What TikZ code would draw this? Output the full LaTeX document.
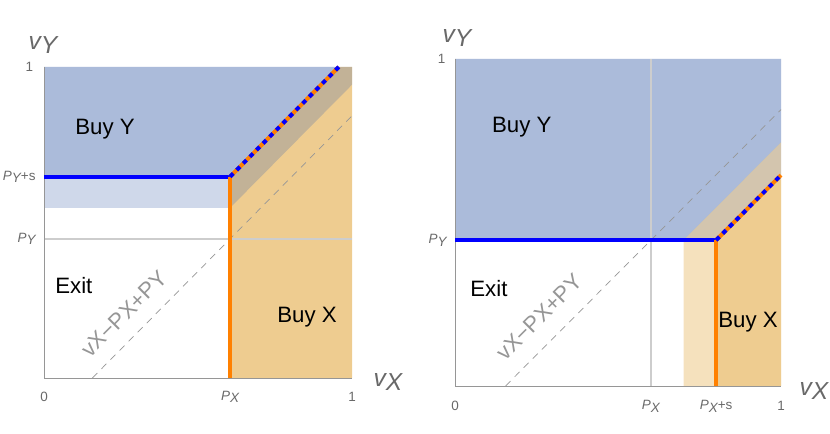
\documentclass[tikz,border=0pt]{standalone}
\usepackage{fontspec}
\setmainfont{Liberation Sans}
\usetikzlibrary{positioning}
\tikzset{>=stealth}
\definecolor{regblue}{RGB}{63,100,170}
\definecolor{regorange}{RGB}{222,155,38}
\definecolor{lineorange}{RGB}{255,128,0}
\definecolor{axisgray}{RGB}{150,150,150}
\definecolor{refgray}{RGB}{205,205,205}
\definecolor{labgray}{RGB}{105,105,105}
\tikzset{
  axis/.style={axisgray, line width=0.8pt},
  refline/.style={refgray, line width=1.5pt},
  diagline/.style={axisgray, line width=0.6pt, dash pattern=on 6pt off 5pt},
  bluebound/.style={blue, line width=3.4pt},
  orangebound/.style={lineorange, line width=3.4pt},
  mixbound/.style={blue, line width=3.4pt, dash pattern=on 4pt off 4pt},
  ticklab/.style={labgray, inner sep=0pt, font=\fontsize{11.5}{13}\selectfont},
  varlab/.style={labgray, inner sep=0pt, font=\fontsize{21}{24}\selectfont\itshape},
  regionlab/.style={inner sep=0pt, font=\fontsize{19}{22}\selectfont},
  diaglab/.style={axisgray, inner sep=0pt, rotate=45, font=\fontsize{19}{22}\selectfont}
}
\newcommand{\lsub}[2]{{\itshape #1\raisebox{-0.35ex}{#2}}}

\begin{document}
\begin{tikzpicture}
\useasboundingbox (0,0) rectangle (24.9,13.02);

\begin{scope}[shift={(1.32,1.68)}, x=9.24cm, y=9.33cm]
\coordinate (oL) at (0,0);
\coordinate (xL) at (1,0);
\coordinate (yL) at (0,1);
\coordinate (pxL) at (0.604,0);
\coordinate (pyL) at (0,0.447);
\coordinate (pyEndL) at (1,0.447);
\coordinate (pysL) at (0,0.647);
\coordinate (kinkL) at (0.604,0.647);
\coordinate (topL) at (0.957,1);
\coordinate (dStartL) at (0.157,0);
\coordinate (dEndL) at (1,0.843);
\fill[regorange, opacity=0.51] (pxL) -- (xL) -- (1,1) -- (topL) -- (kinkL) -- cycle;
\fill[regblue, opacity=0.25] (0,0.547) -- (0.604,0.547) -- (1,0.943) -- (1,1) -- (yL) -- cycle;
\fill[regblue, opacity=0.25] (pysL) -- (kinkL) -- (topL) -- (yL) -- cycle;
\draw[refline] (pyL) -- (pyEndL);
\draw[axis] (yL) -- (oL) -- (xL);
\draw[diagline] (dStartL) -- (dEndL);
\draw[bluebound] (pysL) -- (kinkL);
\draw[orangebound] (pxL) -- (kinkL);
\draw[orangebound] (kinkL) -- (topL);
\draw[mixbound] (kinkL) -- (topL);
\node[ticklab, left=9pt] at (yL) {1};
\node[ticklab, left=7pt] at (pysL) {\lsub{P}{Y}+s};
\node[ticklab, left=7pt] at (pyL) {\lsub{P}{Y}};
\node[ticklab, below=12pt] at (oL) {0};
\node[ticklab, below=11pt] at (pxL) {\lsub{P}{X}};
\node[ticklab, below=12pt] at (xL) {1};
\node[regionlab] (buyyL) at (0.198,0.80) {Buy Y};
\node[regionlab] (exitL) at (0.097,0.296) {Exit};
\node[regionlab] (buyxL) at (0.854,0.196) {Buy X};
\node[diaglab] (diagL) at (0.26,0.206) {vX−PX+PY};
\end{scope}

\begin{scope}[shift={(13.65,1.44)}, x=9.78cm, y=9.81cm]
\coordinate (oR) at (0,0);
\coordinate (xR) at (1,0);
\coordinate (yR) at (0,1);
\coordinate (pxR) at (0.601,0);
\coordinate (pxTopR) at (0.601,1);
\coordinate (pxsR) at (0.801,0);
\coordinate (pyR) at (0,0.446);
\coordinate (kinkR) at (0.801,0.446);
\coordinate (endR) at (1,0.645);
\coordinate (dStartR) at (0.155,0);
\coordinate (dEndR) at (1,0.845);
\fill[regblue, opacity=0.25] (pyR) -- (0.701,0.446) -- (1,0.745) -- (1,1) -- (yR) -- cycle;
\fill[regblue, opacity=0.25] (pyR) -- (kinkR) -- (endR) -- (1,1) -- (yR) -- cycle;
\fill[regorange, opacity=0.3] (0.701,0) -- (xR) -- (1,0.745) -- (0.701,0.446) -- cycle;
\fill[regorange, opacity=0.3] (pxsR) -- (xR) -- (endR) -- (kinkR) -- cycle;
\draw[refline] (pxR) -- (pxTopR);
\draw[axis] (yR) -- (oR) -- (xR);
\draw[diagline] (dStartR) -- (dEndR);
\draw[bluebound] (pyR) -- (kinkR);
\draw[orangebound] (pxsR) -- (kinkR);
\draw[orangebound] (kinkR) -- (endR);
\draw[mixbound] (kinkR) -- (endR);
\node[ticklab, left=8pt] at (yR) {1};
\node[ticklab, left=7pt] at (pyR) {\lsub{P}{Y}};
\node[ticklab, below=13pt] at (oR) {0};
\node[ticklab, below=12pt] at (pxR) {\lsub{P}{X}};
\node[ticklab, below=12pt] at (pxsR) {\lsub{P}{X}+s};
\node[ticklab, below=13pt] at (xR) {1};
\node[regionlab] (buyyR) at (0.205,0.792) {Buy Y};
\node[regionlab] (exitR) at (0.104,0.297) {Exit};
\node[regionlab] (buyxR) at (0.899,0.196) {Buy X};
\node[diaglab] (diagR) at (0.258,0.211) {vX−PX+PY};
\end{scope}

\node[varlab] (vyL) at (1.29,11.67) {v\raisebox{-4pt}{Y}};
\node[varlab] (vxL) at (11.64,1.56) {v\raisebox{-4pt}{X}};
\node[varlab] (vyR) at (13.71,11.88) {v\raisebox{-4pt}{Y}};
\node[varlab] (vxR) at (24.42,1.29) {v\raisebox{-4pt}{X}};
\end{tikzpicture}
\end{document}
